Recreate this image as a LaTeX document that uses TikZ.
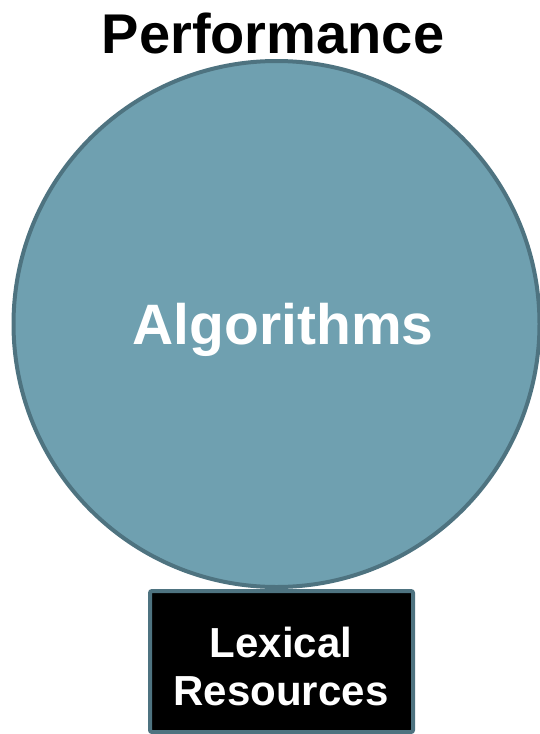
\documentclass[tikz,border=0pt]{standalone}
\usepackage{fontspec}
\setmainfont{Liberation Sans}
\definecolor{tealfill}{HTML}{6FA0B0}
\definecolor{tealline}{HTML}{4E7380}

\begin{document}
\begin{tikzpicture}[x=1pt,y=-1pt,
  bigtext/.style={font=\bfseries\fontsize{57}{60}\selectfont, inner sep=0pt, anchor=base},
  boxtext/.style={font=\bfseries\fontsize{42}{48}\selectfont, inner sep=0pt, anchor=base, text=white}]
  \useasboundingbox (0,0) rectangle (539,734);

  %% Title
  \node[bigtext, font=\bfseries\fontsize{56}{60}\selectfont] (perf) at (273,53) {Performance};

  %% Circle
  \node[circle, draw=tealline, fill=tealfill, line width=4pt,
        minimum size=526pt, inner sep=0pt] (algo) at (276.5,324) {};
  \node[bigtext, text=white] (algolabel) at (283,344) {Algorithms};

  %% Box
  \draw[tealline, line width=4pt, fill=black, rounded corners=2pt]
    (150,591) rectangle (413,732);
  \node[boxtext] (lex) at (281,657) {Lexical};
  \node[boxtext] (res) at (281,705) {Resources};

\end{tikzpicture}
\end{document}
